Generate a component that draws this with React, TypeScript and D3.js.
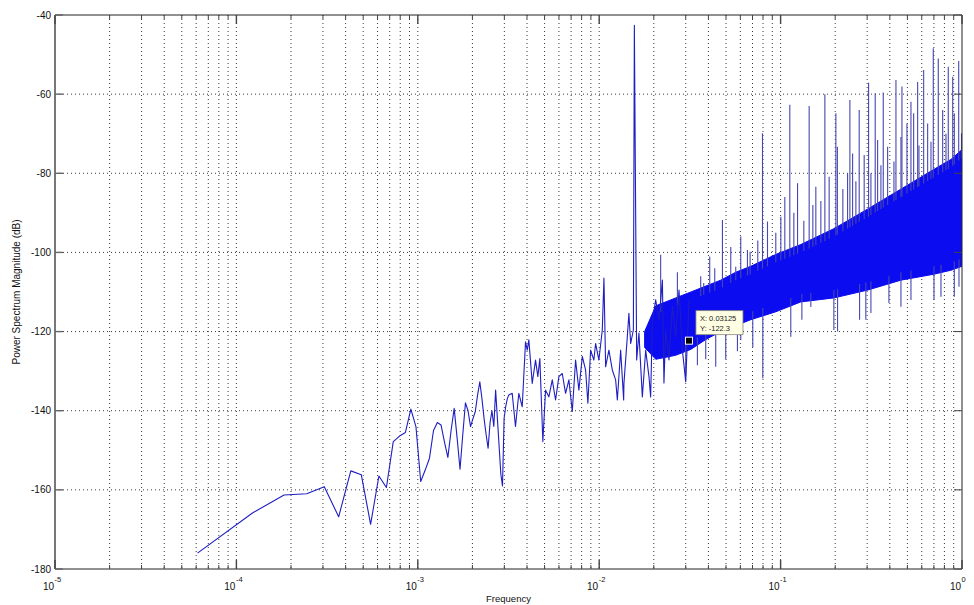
import React from 'react';
import * as d3 from 'd3';

const W = 974;
const H = 605;
const PL = 55, PR = 962, PT = 15, PB = 569;

// FFT bin count (frequency = k / NFFT)
const NFFT = 16384;

// Low-frequency bins (k = 1..52), dB
const lowK = [1,2,3,4,5,6,7,8,9,10,11,12,13,14,15,16,17,18,19,20,21,22,23,24,25,26,27,28,29,30,31,32,33,34,35,36,37,38,39,40,41,42,43,44,45,46,47,48,49,50,51,52];
const lowDb = [-176.0,-165.9,-161.3,-161.0,-159.2,-166.8,-155.2,-156.2,-168.7,-156.5,-159.4,-147.8,-146.4,-145.5,-139.6,-144.0,-157.9,-155,-152,-145,-143,-143.6,-148,-151.8,-145,-139.4,-147,-154.8,-146,-138,-140,-144,-142,-140.2,-136,-132.7,-137,-142,-146,-149.5,-143,-140,-144,-134.8,-142,-149,-156,-159,-141.9,-139,-137,-136];

// Mid-band vertices
const midFreq = [0.003314,0.003456,0.003605,0.003764,0.003925,0.004011,0.004094,0.004274,0.004457,0.004589,0.004708,0.004891,0.005061,0.005278,0.005511,0.005747,0.005994,0.006258,0.006526,0.006806,0.007107,0.007411,0.007727,0.008069,0.008414,0.008664,0.008965,0.009348,0.009553,0.009961,0.01040,0.01062,0.01085,0.01131,0.01181,0.01232,0.01259,0.01313,0.01364,0.01369,0.01429,0.01458,0.01491,0.01543,0.015625,0.01609,0.01656,0.01729,0.01804,0.01881,0.01921,0.01964,0.02048,0.02136,0.02230,0.02275,0.02326,0.02425,0.02533,0.02640,0.02754,0.02875,0.02999,0.03126];
const midDb = [-135.6,-144.0,-135.6,-139.0,-122.6,-124.7,-122.1,-133.1,-127.2,-131.4,-126.8,-147.8,-134.8,-136.5,-132.2,-137.3,-131.4,-130.6,-135.6,-132.2,-140.2,-127.2,-134.8,-126.3,-129.7,-138.1,-124.7,-127.2,-123.0,-127.2,-119.6,-106.5,-128.9,-124.7,-129.7,-132.2,-137.3,-124.7,-137.3,-133.1,-121.3,-115.4,-123.0,-119.6,-42.6,-127.2,-120.4,-136.5,-124.7,-131.4,-136.5,-117.5,-112.0,-117.1,-107.0,-133.0,-119.6,-127.2,-113.7,-121.3,-109.5,-124.7,-132.7,-112.0];

// Dense high-frequency band: upper / lower envelope of the solid core
const bandFreq = [0.0178,0.0205,0.0264,0.0320,0.0387,0.0468,0.0566,0.0685,0.0941,0.1293,0.1966,0.3028,0.4607,0.7008,0.8695,1.0];
const bandHigh = [-120,-113.5,-111.5,-110,-108.5,-107,-105,-103.5,-100.5,-98,-94,-89,-84,-79,-76.5,-74];
const bandLow = [-124,-127,-126,-124.5,-122,-120,-118.5,-117,-115,-112.5,-111.5,-109.5,-107,-105.5,-104.5,-103.5];

// Upward spikes (harmonics) above the band
const spikeUpFreq = [0.02182,0.02698,0.03627,0.03769,0.04067,0.04335,0.04780,0.05312,0.05659,0.06031,0.06565,0.06789,0.07486,0.07946,0.08468,0.09408,0.1003,0.1055,0.1124,0.1183,0.1240,0.1343,0.1437,0.1506,0.1564,0.1667,0.1754,0.1852,0.2017,0.2056,0.2204,0.2340,0.2410,0.2494,0.2600,0.2712,0.2889,0.3055,0.3147,0.3323,0.3426,0.3573,0.3680,0.3890,0.4215,0.4324,0.4607,0.4666,0.4972,0.5231,0.5413,0.5694,0.5790,0.6147,0.6466,0.6745,0.6945,0.7400,0.7825,0.8158,0.8401,0.8887,0.9069,0.9590,0.9937];
const spikeUpDb = [-100.6,-105,-106,-107.7,-101,-104,-91.8,-98.6,-103.6,-96,-99.4,-99.8,-97,-69.9,-92.2,-95,-91,-86,-62.7,-90,-82.5,-92,-63,-88,-83.4,-87,-60,-80.9,-64.8,-73.3,-84,-80,-61.5,-75,-82,-64,-75.4,-57.1,-80,-59.8,-71.6,-78,-59.6,-73.3,-77,-56.4,-70.8,-58.1,-67.4,-61.9,-64.8,-56.9,-73,-53.9,-67.4,-72,-48.4,-51,-64,-70,-53.1,-55.6,-64.8,-51.6,-69.9];

// Downward spikes below the band
const spikeDownFreq = [0.02999,0.03478,0.03866,0.04389,0.04984,0.05782,0.06031,0.07024,0.07978,0.1138,0.1310,0.1468,0.1966,0.2061,0.2725,0.2950,0.3147,0.3955,0.4607,0.5231,0.7008,0.7657,0.9069,0.9625];
const spikeDownDb = [-131,-128.5,-127,-128.9,-127,-125,-122.1,-124,-131.8,-121.3,-117,-113.8,-119.6,-120,-117,-117,-115.3,-112.8,-113.7,-112,-112,-111.2,-111.2,-108.7];

const yTicks = [-180,-160,-140,-120,-100,-80,-60,-40];
const xDecades = [-5,-4,-3,-2,-1,0];
const minorMult = [2,3,4,5,6,7,8,9];

const tipX = 0.03125;
const tipY = -122.3;

const FONT = "'Liberation Sans', Arial, Helvetica, sans-serif";

export default function App() {
  const x = d3.scaleLog().domain([1e-5, 1]).range([PL, PR]);
  const y = d3.scaleLinear().domain([-180, -40]).range([PB, PT]);

  const hiAt = d3.scaleLog().domain(bandFreq).range(bandHigh).clamp(true);
  const loAt = d3.scaleLog().domain(bandFreq).range(bandLow).clamp(true);

  const pts: [number, number][] = [
    ...lowK.map((k, i) => [k / NFFT, lowDb[i]] as [number, number]),
    ...midFreq.map((f, i) => [f, midDb[i]] as [number, number]),
  ];
  const line = d3.line<[number, number]>().x(d => x(d[0])).y(d => y(d[1]));
  const area = d3.area<number>()
    .x(f => x(f))
    .y0((_, i) => y(bandLow[i]))
    .y1((_, i) => y(bandHigh[i]));

  const minorFreqs: number[] = [];
  xDecades.slice(0, -1).forEach(d => minorMult.forEach(m => minorFreqs.push(m * Math.pow(10, d))));
  const majorFreqs = xDecades.map(d => Math.pow(10, d));

  const gridStyle = { stroke: '#3a3a3a', strokeWidth: 1, strokeDasharray: '1,3' };

  const mx = x(tipX), my = y(tipY);

  return (
    <svg width={W} height={H} style={{ position: 'absolute', left: 0, top: 0, background: '#fff' }}>
      <defs>
        <clipPath id="plot">
          <rect x={PL} y={PT} width={PR - PL} height={PB - PT} />
        </clipPath>
      </defs>
      <rect x={0} y={0} width={W} height={H} fill="#fff" />
      {/* grid */}
      <g>
        {[...minorFreqs, ...majorFreqs].filter(f => f > 1e-5 && f < 1).map((f, i) => (
          <line key={'vg' + i} x1={x(f)} x2={x(f)} y1={PT} y2={PB} {...gridStyle} />
        ))}
        {yTicks.filter(t => t > -180 && t < -40).map(t => (
          <line key={'hg' + t} x1={PL} x2={PR} y1={y(t)} y2={y(t)} {...gridStyle} />
        ))}
      </g>
      {/* data */}
      <g clipPath="url(#plot)">
        <path d={area(bandFreq) || ''} fill="#0c0cf0" stroke="#0c0cf0" strokeWidth={1} />
        {spikeDownFreq.map((f, i) => (
          <line key={'sd' + i} x1={x(f)} x2={x(f)} y1={y(loAt(f) + 2)} y2={y(spikeDownDb[i])} stroke="#4646b4" strokeWidth={1.1} />
        ))}
        {spikeUpFreq.map((f, i) => (
          <line key={'su' + i} x1={x(f)} x2={x(f)} y1={y(hiAt(f) - 2)} y2={y(spikeUpDb[i])} stroke="#4646b4" strokeWidth={1.1} />
        ))}
        <path d={line(pts) || ''} fill="none" stroke="#1e1ec4" strokeWidth={1.1} strokeLinejoin="round" />
      </g>
      {/* axes box */}
      <line x1={PL} x2={PR} y1={PT} y2={PT} stroke="#222" strokeWidth={1} />
      <line x1={PR} x2={PR} y1={PT} y2={PB} stroke="#222" strokeWidth={1} />
      <line x1={PL} x2={PR} y1={PB} y2={PB} stroke="#222" strokeWidth={1} />
      <line x1={PL} x2={PL} y1={PT} y2={PB} stroke="#777" strokeWidth={2} />
      {/* x ticks */}
      {majorFreqs.map((f, i) => (
        <g key={'xt' + i}>
          <line x1={x(f)} x2={x(f)} y1={PB} y2={PB - 9} stroke="#444" strokeWidth={1.4} />
          <line x1={x(f)} x2={x(f)} y1={PT} y2={PT + 9} stroke="#444" strokeWidth={1.4} />
        </g>
      ))}
      {minorFreqs.map((f, i) => (
        <g key={'xm' + i}>
          <line x1={x(f)} x2={x(f)} y1={PB} y2={PB - 4} stroke="#444" strokeWidth={1} />
          <line x1={x(f)} x2={x(f)} y1={PT} y2={PT + 4} stroke="#444" strokeWidth={1} />
        </g>
      ))}
      {/* y ticks */}
      {yTicks.map(t => (
        <g key={'yt' + t}>
          <line x1={PL} x2={PL + 8} y1={y(t)} y2={y(t)} stroke="#666" strokeWidth={1.4} />
          <line x1={PR} x2={PR - 8} y1={y(t)} y2={y(t)} stroke="#444" strokeWidth={1} />
          <text x={PL - 4} y={y(t) + 3.5} fontFamily={FONT} fontSize={10} textAnchor="end" fill="#111">{t}</text>
        </g>
      ))}
      {/* x tick labels */}
      {xDecades.map(d => (
        <g key={'xl' + d} fontFamily={FONT} fill="#111">
          <text x={x(Math.pow(10, d)) - 1} y={590} fontSize={10} textAnchor="end">10</text>
          <text x={x(Math.pow(10, d)) - 0.5} y={582} fontSize={7.5} textAnchor="start">{d === 0 ? '0' : String(d)}</text>
        </g>
      ))}
      {/* axis labels */}
      <text x={(PL + PR) / 2} y={602} fontFamily={FONT} fontSize={9.5} textAnchor="middle" fill="#111">Frequency</text>
      <text transform={`translate(20, ${(PT + PB) / 2}) rotate(-90)`} fontFamily={FONT} fontSize={10} textAnchor="middle" fill="#111">Power Spectrum Magnitude (dB)</text>
      {/* datatip */}
      <g>
        <rect x={mx + 7} y={my - 30} width={47} height={24} fill="#ffffe4" stroke="#8a8a7a" strokeWidth={0.8} />
        <text x={mx + 11} y={my - 20} fontFamily={FONT} fontSize={7.5} fill="#222">X: 0.03125</text>
        <text x={mx + 11} y={my - 10} fontFamily={FONT} fontSize={7.5} fill="#222">Y: -122.3</text>
        <rect x={mx - 3.5} y={my - 3.5} width={7} height={7} fill="#000" stroke="#fff" strokeWidth={1} />
      </g>
    </svg>
  );
}
